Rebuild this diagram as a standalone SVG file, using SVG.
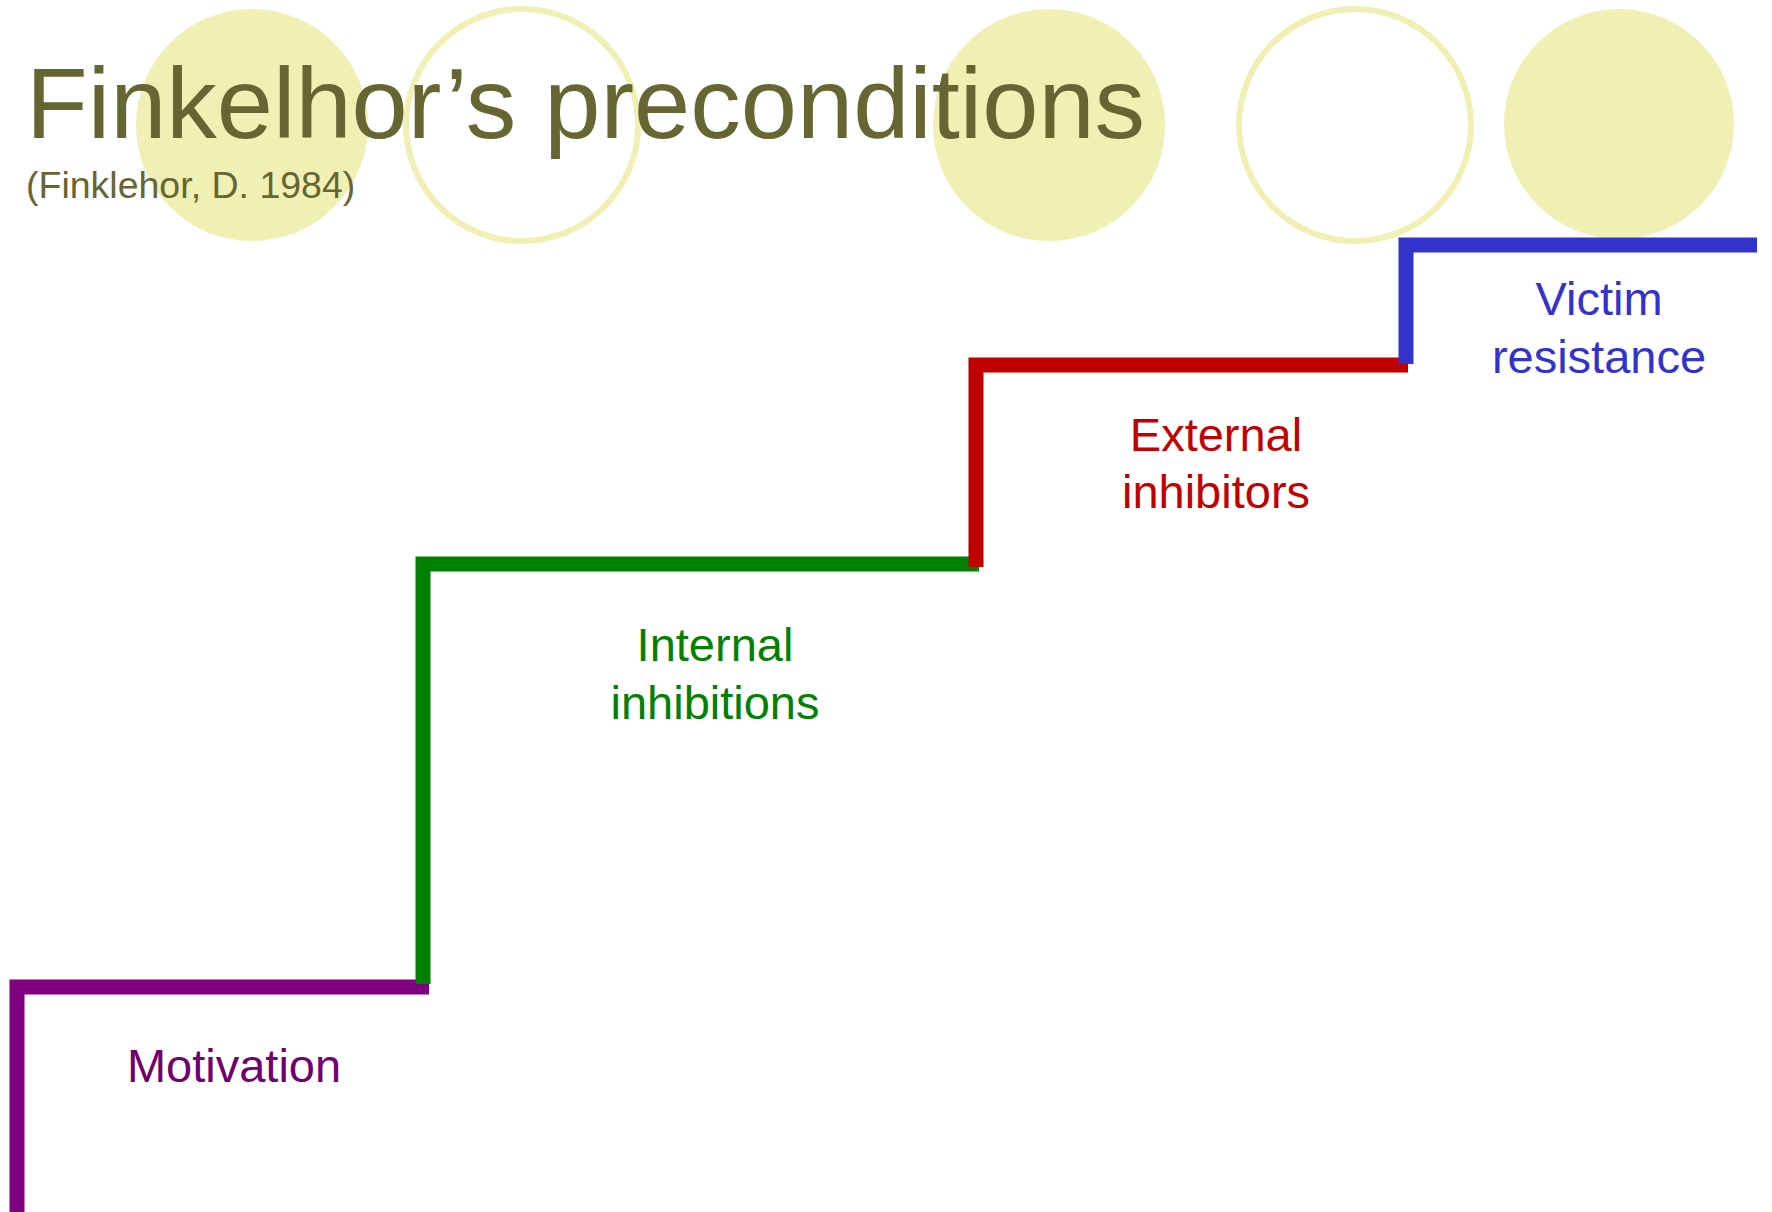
<svg xmlns="http://www.w3.org/2000/svg" width="1772" height="1212" viewBox="0 0 1772 1212">
<style>
.filled{fill:#F0F0B4;stroke:none}
.ring{fill:none;stroke:#F0F0B4;stroke-width:6}
.step{fill:none;stroke-width:15;stroke-linecap:butt;stroke-linejoin:miter}
.lbl{font-family:"Liberation Sans",Arial,sans-serif;font-size:47px;text-anchor:middle}
.title{font-family:"Liberation Sans",Arial,sans-serif;fill:#666633}
</style>
<rect width="1772" height="1212" fill="#FFFFFF"/>
<g id="decor">
<circle class="filled" cx="252" cy="125" r="116"/>
<circle class="ring" cx="522" cy="125" r="116"/>
<circle class="filled" cx="1049" cy="125" r="116"/>
<circle class="ring" cx="1355" cy="125" r="116"/>
<circle class="filled" cx="1619" cy="124" r="115"/>
</g>
<g id="title">
<text class="title" x="26" y="138" font-size="101">Finkelhor’s preconditions</text>
<text class="title" x="26" y="198" font-size="37.5">(Finklehor, D. 1984)</text>
</g>
<g id="connectors">
<path id="step-motivation" class="step" stroke="#800080" d="M17 1212 V987 H429"/>
<path id="step-internal" class="step" stroke="#008000" d="M423 984 V564 H979"/>
<path id="step-external" class="step" stroke="#C00000" d="M976 567 V365 H1408"/>
<path id="step-victim" class="step" stroke="#3333CC" d="M1406 364 V245 H1757"/>
</g>
<g id="node-motivation">
<text class="lbl" fill="#700070" x="234" y="1082">Motivation</text>
</g>
<g id="node-internal">
<text class="lbl" fill="#008000" x="715" y="661">Internal</text>
<text class="lbl" fill="#008000" x="715" y="719">inhibitions</text>
</g>
<g id="node-external">
<text class="lbl" fill="#C00000" x="1216" y="451">External</text>
<text class="lbl" fill="#C00000" x="1216" y="508">inhibitors</text>
</g>
<g id="node-victim">
<text class="lbl" fill="#3333CC" x="1599" y="315">Victim</text>
<text class="lbl" fill="#3333CC" x="1599" y="373">resistance</text>
</g>
</svg>
